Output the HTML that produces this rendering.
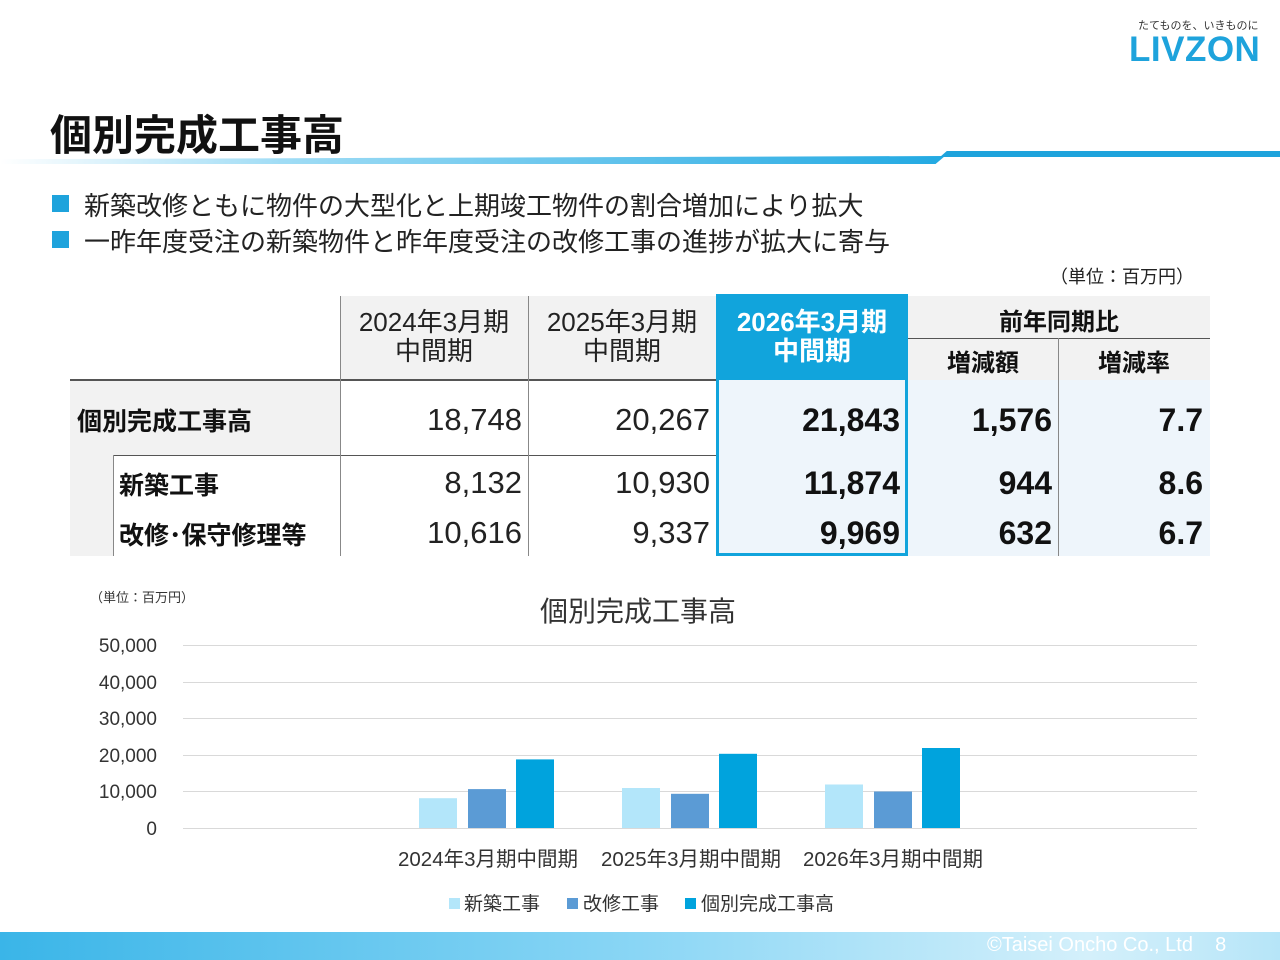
<!DOCTYPE html><html><head><meta charset="utf-8"><style>
body{margin:0;width:1280px;height:960px;position:relative;background:#fff;font-family:"Liberation Sans","Noto Sans CJK JP",sans-serif;overflow:hidden;color:#222}
.a{position:absolute}
.c{position:absolute;display:flex;align-items:center;justify-content:center;text-align:center}
.r{position:absolute;display:flex;align-items:center;justify-content:flex-end;font-size:31px}
.r.b{font-size:32px}
.b{font-weight:bold;color:#111}
</style></head><body>
<div class="a" style="left:1138px;top:17px;font-size:11px;color:#333">たてものを、いきものに</div>
<div class="a" style="left:1129px;top:30px;font-size:35px;font-weight:bold;color:#1ea3dc;letter-spacing:0.5px">LIVZON</div>
<div class="a b" style="left:50px;top:102px;font-size:42px">個別完成工事高</div>
<div class="a" style="left:0;top:156px;width:945px;height:8px;background:linear-gradient(90deg,#fff,#9fdcf5 30%,#22a9e2);clip-path:polygon(0 40%,100% 0,99% 100%,0 100%)"></div>
<div class="a" style="left:940px;top:151px;width:340px;height:6px;background:#1ea3dc;clip-path:polygon(2% 0,100% 0,100% 100%,0 100%)"></div>
<div class="a" style="left:52px;top:195px;width:17px;height:17px;background:#1ea3dc"></div>
<div class="a" style="left:52px;top:231px;width:17px;height:17px;background:#1ea3dc"></div>
<div class="a" style="left:84px;top:186px;font-size:26px">新築改修ともに物件の大型化と上期竣工物件の割合増加により拡大</div>
<div class="a" style="left:84px;top:222px;font-size:26px">一昨年度受注の新築物件と昨年度受注の改修工事の進捗が拡大に寄与</div>
<div class="a" style="left:1050px;top:263px;font-size:18px">（単位：百万円）</div>
<div class="a" style="left:340px;top:296px;width:376px;height:84px;background:#f2f2f2"></div>
<div class="a" style="left:908px;top:296px;width:302px;height:84px;background:#f2f2f2"></div>
<div class="a" style="left:908px;top:380px;width:302px;height:176px;background:#eef5fb"></div>
<div class="a" style="left:70px;top:380px;width:270px;height:75px;background:#f2f2f2"></div>
<div class="a" style="left:70px;top:455px;width:43px;height:101px;background:#f2f2f2"></div>
<div class="a" style="left:716px;top:294px;width:192px;height:86px;background:#11a4dc"></div>
<div class="a" style="left:716px;top:380px;width:186px;height:173px;background:#eef5fb;border:3px solid #11a4dc;border-top:none"></div>
<div class="a" style="left:70px;top:379px;width:646px;height:2px;background:#555"></div>
<div class="a" style="left:113px;top:455px;width:603px;height:1px;background:#555"></div>
<div class="a" style="left:908px;top:338px;width:302px;height:1px;background:#555"></div>
<div class="a" style="left:340px;top:296px;width:1px;height:260px;background:#888"></div>
<div class="a" style="left:528px;top:296px;width:1px;height:260px;background:#888"></div>
<div class="a" style="left:1058px;top:338px;width:1px;height:218px;background:#888"></div>
<div class="a" style="left:113px;top:455px;width:1px;height:101px;background:#888"></div>
<div class="c" style="left:340px;top:308px;width:188px;font-size:26px;line-height:29px">2024年3月期<br>中間期</div>
<div class="c" style="left:528px;top:308px;width:188px;font-size:26px;line-height:29px">2025年3月期<br>中間期</div>
<div class="c" style="left:716px;top:308px;width:192px;font-size:26px;line-height:29px;color:#fff;font-weight:bold">2026年3月期<br>中間期</div>
<div class="c b" style="left:908px;top:300px;width:302px;height:38px;font-size:24px">前年同期比</div>
<div class="c b" style="left:908px;top:340px;width:150px;height:40px;font-size:24px">増減額</div>
<div class="c b" style="left:1058px;top:340px;width:152px;height:40px;font-size:24px">増減率</div>
<div class="a b" style="left:77px;top:402px;font-size:25px">個別完成工事高</div>
<div class="a b" style="left:119px;top:466px;font-size:25px">新築工事</div>
<div class="a b" style="left:119px;top:516px;font-size:25px">改修･保守修理等</div>
<div class="r" style="left:340px;top:400px;width:182px;height:40px">18,748</div>
<div class="r" style="left:528px;top:400px;width:182px;height:40px">20,267</div>
<div class="r b" style="left:716px;top:400px;width:184px;height:40px">21,843</div>
<div class="r b" style="left:908px;top:400px;width:144px;height:40px">1,576</div>
<div class="r b" style="left:1058px;top:400px;width:145px;height:40px">7.7</div>
<div class="r" style="left:340px;top:463px;width:182px;height:40px">8,132</div>
<div class="r" style="left:528px;top:463px;width:182px;height:40px">10,930</div>
<div class="r b" style="left:716px;top:463px;width:184px;height:40px">11,874</div>
<div class="r b" style="left:908px;top:463px;width:144px;height:40px">944</div>
<div class="r b" style="left:1058px;top:463px;width:145px;height:40px">8.6</div>
<div class="r" style="left:340px;top:513px;width:182px;height:40px">10,616</div>
<div class="r" style="left:528px;top:513px;width:182px;height:40px">9,337</div>
<div class="r b" style="left:716px;top:513px;width:184px;height:40px">9,969</div>
<div class="r b" style="left:908px;top:513px;width:144px;height:40px">632</div>
<div class="r b" style="left:1058px;top:513px;width:145px;height:40px">6.7</div>
<svg class="a" style="left:0;top:580px" width="1280" height="340" font-family="Liberation Sans,Noto Sans CJK JP,sans-serif">
<text x="90" y="22" font-size="13" fill="#333">（単位：百万円）</text>
<text x="638" y="41" font-size="28" text-anchor="middle" fill="#333">個別完成工事高</text>
<g stroke="#d9d9d9" stroke-width="1">
<line x1="183" x2="1197" y1="65.5" y2="65.5"/><line x1="183" x2="1197" y1="102.5" y2="102.5"/><line x1="183" x2="1197" y1="138.5" y2="138.5"/><line x1="183" x2="1197" y1="175.5" y2="175.5"/><line x1="183" x2="1197" y1="211.5" y2="211.5"/><line x1="183" x2="1197" y1="248.5" y2="248.5"/></g>
<g font-size="19" fill="#333" text-anchor="end"><text x="157" y="72">50,000</text><text x="157" y="109">40,000</text><text x="157" y="145">30,000</text><text x="157" y="182">20,000</text><text x="157" y="218">10,000</text><text x="157" y="255">0</text></g>
<g>
<rect x="419" y="218.2" width="38" height="29.8" fill="#b3e6fa"/><rect x="468" y="209.1" width="38" height="38.9" fill="#5b9bd5"/><rect x="516" y="179.4" width="38" height="68.6" fill="#00a3dd"/>
<rect x="622" y="208" width="38" height="40" fill="#b3e6fa"/><rect x="671" y="213.8" width="38" height="34.2" fill="#5b9bd5"/><rect x="719" y="173.8" width="38" height="74.2" fill="#00a3dd"/>
<rect x="825" y="204.5" width="38" height="43.5" fill="#b3e6fa"/><rect x="874" y="211.5" width="38" height="36.5" fill="#5b9bd5"/><rect x="922" y="168" width="38" height="80" fill="#00a3dd"/>
</g>
<g font-size="20.5" fill="#333" text-anchor="middle"><text x="488" y="286">2024年3月期中間期</text><text x="691" y="286">2025年3月期中間期</text><text x="893" y="286">2026年3月期中間期</text></g>
<g font-size="19" fill="#333"><rect x="449" y="318" width="11" height="11" fill="#b3e6fa"/><text x="464" y="330">新築工事</text>
<rect x="567" y="318" width="11" height="11" fill="#5b9bd5"/><text x="583" y="330">改修工事</text>
<rect x="685" y="318" width="11" height="11" fill="#00a3dd"/><text x="701" y="330">個別完成工事高</text></g>
</svg>
<div class="a" style="left:0;top:932px;width:1280px;height:28px;background:linear-gradient(90deg,#3ab5e8,#8ad6f5 50%,#d4f0fb 85%,#b6e5f8)"></div>
<div class="a" style="left:987px;top:934px;font-size:20px;color:#fff">©Taisei Oncho Co., Ltd &nbsp;&nbsp; 8</div>
</body></html>
